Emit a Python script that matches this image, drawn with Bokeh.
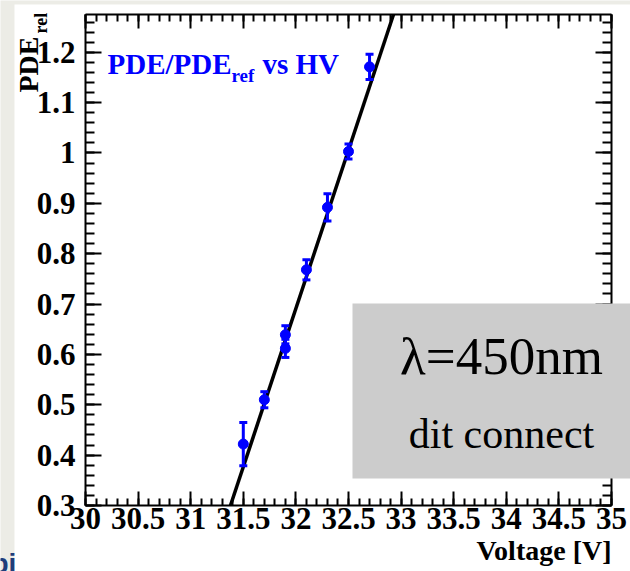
import math
from bokeh.plotting import figure
from bokeh.models import (Range1d, SingleIntervalTicker, CustomJSTickFormatter, LinearAxis,
                          Whisker, TeeHead, ColumnDataSource, Label, BoxAnnotation)
from bokeh.embed import file_html
from bokeh.resources import INLINE

# ---- data ----
voltage = [31.5, 31.7, 31.9, 31.9, 32.1, 32.3, 32.5, 32.7]
pde_rel = [0.422, 0.510, 0.639, 0.612, 0.768, 0.892, 1.003, 1.171]
pde_err = [0.043, 0.016, 0.018, 0.018, 0.020, 0.027, 0.015, 0.025]
fit_voltage = [31.378, 32.928]
fit_pde = [0.300, 1.275]
x_axis_span = (30.0, 35.0)
y_axis_span = (0.3, 1.275)

# ---- layout constants (canvas pixels) ----
W, H = 630, 571
FL, FR, FT, FB = 85, 611, 14, 505   # ROOT frame edges on the canvas

# the plot frame covers the whole canvas; the ROOT frame is drawn with bounded axes
xpp = (FR - FL) / (x_axis_span[1] - x_axis_span[0])
ypp = (FB - FT) / (y_axis_span[1] - y_axis_span[0])
x_rng = Range1d(x_axis_span[0] - FL / xpp, x_axis_span[1] + (W - FR) / xpp)
y_rng = Range1d(y_axis_span[0] - (H - FB) / ypp, y_axis_span[1] + FT / ypp)

SERIF = "Liberation Serif"
BLUE = "#0000ff"
BASE_K = 0.35   # baseline correction (fraction of font size)

p = figure(width=W, height=H, output_backend="svg", toolbar_location=None,
           x_range=x_rng, y_range=y_rng, min_border=0)
p.xgrid.visible = False
p.ygrid.visible = False
p.background_fill_color = "#ecece6"
p.border_fill_color = "#ecece6"
p.outline_line_color = None

fmt = CustomJSTickFormatter(code="return tick.toFixed(1).replace(/\\.0$/, '');")
blank = CustomJSTickFormatter(code="return '';")

def style_axis(ax, ticker, loc, bounds, major_in, minor_in, labels=True, standoff=8):
    ax.ticker = ticker
    ax.fixed_location = loc
    ax.bounds = bounds
    ax.axis_line_color = "black"
    ax.axis_line_width = 2
    ax.major_tick_line_color = "black"
    ax.minor_tick_line_color = "black"
    ax.major_tick_line_width = 2
    ax.minor_tick_line_width = 2
    ax.major_tick_in = major_in
    ax.major_tick_out = 0
    ax.minor_tick_in = minor_in
    ax.minor_tick_out = 0
    if labels:
        ax.formatter = fmt
        ax.major_label_text_font = SERIF
        ax.major_label_text_font_style = "bold"
        ax.major_label_text_font_size = "31px"
        ax.major_label_text_color = "black"
        ax.major_label_standoff = standoff
    else:
        ax.formatter = blank
        ax.major_label_text_font_size = "0px"
        ax.major_label_standoff = 0

xt = SingleIntervalTicker(interval=0.5, num_minor_ticks=5)
yt = SingleIntervalTicker(interval=0.1, num_minor_ticks=5)
style_axis(p.xaxis[0], xt, y_axis_span[0], x_axis_span, 14, 7, True, 2)
style_axis(p.yaxis[0], yt, x_axis_span[0], y_axis_span, 16, 9, True, 10)
top = LinearAxis()
style_axis(top, xt, y_axis_span[1], x_axis_span, 14, 7, False)
right = LinearAxis()
style_axis(right, yt, x_axis_span[1], y_axis_span, 16, 9, False)
p.add_layout(top, "above")
p.add_layout(right, "right")

def box(l, r, t, b, color, level):
    p.add_layout(BoxAnnotation(left=l, right=r, top=H - t, bottom=H - b,
                               left_units="screen", right_units="screen",
                               top_units="screen", bottom_units="screen",
                               fill_color=color, fill_alpha=1, line_color=None,
                               level=level))

# white ROOT canvas over the slide background
box(14, W + 20, 4, H + 20, "white", "underlay")

# fit line
p.line(fit_voltage, fit_pde, line_color="black", line_width=3.5)

# points with error bars
src = ColumnDataSource(dict(x=voltage, y=pde_rel,
                            lo=[v - e for v, e in zip(pde_rel, pde_err)],
                            hi=[v + e for v, e in zip(pde_rel, pde_err)]))
p.add_layout(Whisker(source=src, base="x", lower="lo", upper="hi",
                     line_color=BLUE, line_width=3,
                     upper_head=TeeHead(size=8, line_color=BLUE, line_width=3),
                     lower_head=TeeHead(size=8, line_color=BLUE, line_width=3),
                     level="glyph"))
p.scatter("x", "y", source=src, size=10, fill_color=BLUE, line_color=BLUE)

def lab(text, cx, cy, size, color="black", style="bold", align="left", angle=0.0, font=SERIF):
    # (cx, cy): canvas position of the text baseline start
    if angle == 0.0:
        cy = cy - BASE_K * size
    else:
        cx = cx - BASE_K * size
    p.add_layout(Label(x=cx, y=H - cy, x_units="screen", y_units="screen", text=text,
                       text_font=font, text_font_style=style, text_font_size=f"{size}px",
                       text_color=color, text_align=align, text_baseline="alphabetic",
                       angle=angle))

# title text inside frame
lab("PDE/PDE", 107, 74, 29, BLUE)
lab("ref", 231, 82, 19, BLUE)
lab("vs HV", 262, 74, 29, BLUE)

# axis titles
lab("PDE", 38, 92, 28, angle=math.pi / 2)
lab("rel", 47, 33, 18, angle=math.pi / 2)
lab("Voltage [V]", 611, 560, 28, align="right")

# grey pave
box(352, W + 20, 303, 478, "#cccccc", "annotation")
lab("\u03bb=450nm", 501, 374, 53, style="normal", align="center")
lab("dit connect", 501, 448, 42, style="normal", align="center")

# slide remnant text
lab("bi", -9, 573, 28, color="#1f3d7a", font="Liberation Sans")

open("out.html", "w").write(file_html(p, INLINE))
